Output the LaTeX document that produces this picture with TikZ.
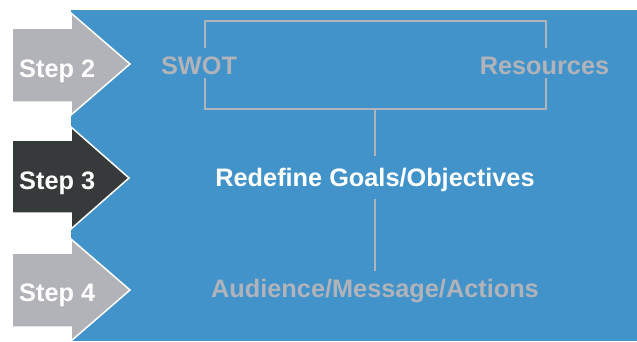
\documentclass[tikz,border=0pt]{standalone}
\usepackage{fontspec}
\setmainfont{Liberation Sans}
\definecolor{bgblue}{HTML}{4393CB}
\definecolor{stepgray}{HTML}{B1B3B8}
\definecolor{stepdark}{HTML}{363A3A}
\definecolor{txtgray}{HTML}{B0B3B9}
\begin{document}
\begin{tikzpicture}[x=1pt,y=-1pt,
  steparrow/.style={draw=white,line width=1.5pt,line join=miter},
  steptext/.style={anchor=base west,text=white,font=\fontsize{25.3}{28}\selectfont\bfseries,inner sep=0pt},
  item/.style={anchor=base,font=\fontsize{25.3}{28}\selectfont\bfseries,inner sep=0pt},
  link/.style={draw=txtgray,line width=2pt}]
\useasboundingbox (0,0) rectangle (637,341);
\fill[white] (0,0) rectangle (637,341);
\fill[bgblue] (71,10) rectangle (637,341);
% arrows
\filldraw[steparrow,fill=stepgray] (12,28) -- (71,28) -- (71,13) -- (130,64) -- (71,115) -- (71,102) -- (12,102) -- cycle;
\filldraw[steparrow,fill=stepdark] (12,140) -- (71,140) -- (71,127) -- (129,178) -- (71,229) -- (71,213) -- (12,213) -- cycle;
\filldraw[steparrow,fill=stepgray] (12,253) -- (71,253) -- (71,239) -- (130,290) -- (71,341) -- (71,327) -- (12,327) -- cycle;
\node[steptext] (s2) at (19,77.5) {Step 2};
\node[steptext] (s3) at (19,189) {Step 3};
\node[steptext] (s4) at (19,301) {Step 4};
% items
\node[item,text=txtgray] (swot) at (199,74) {SWOT};
\node[item,text=txtgray] (res) at (544.5,74) {Resources};
\node[item,text=white] (goals) at (375,186) {Redefine Goals/Objectives};
\node[item,text=txtgray] (aud) at (375,297) {Audience/Message/Actions};
% bracket
\coordinate (ltop) at (205,48);
\coordinate (lbot) at (205,78);
\coordinate (rtop) at (546,48);
\coordinate (rbot) at (546,78);
\coordinate (stemtop) at (375,109);
\coordinate (gtop) at (375,156);
\coordinate (gbot) at (375,199);
\coordinate (atop) at (375,271);
\draw[link] (ltop) -- (205,21) -- (546,21) -- (rtop);
\draw[link] (lbot) -- (205,109) -- (546,109) -- (rbot);
\draw[link] (stemtop) -- (gtop);
\draw[link] (gbot) -- (atop);
\end{tikzpicture}
\end{document}
